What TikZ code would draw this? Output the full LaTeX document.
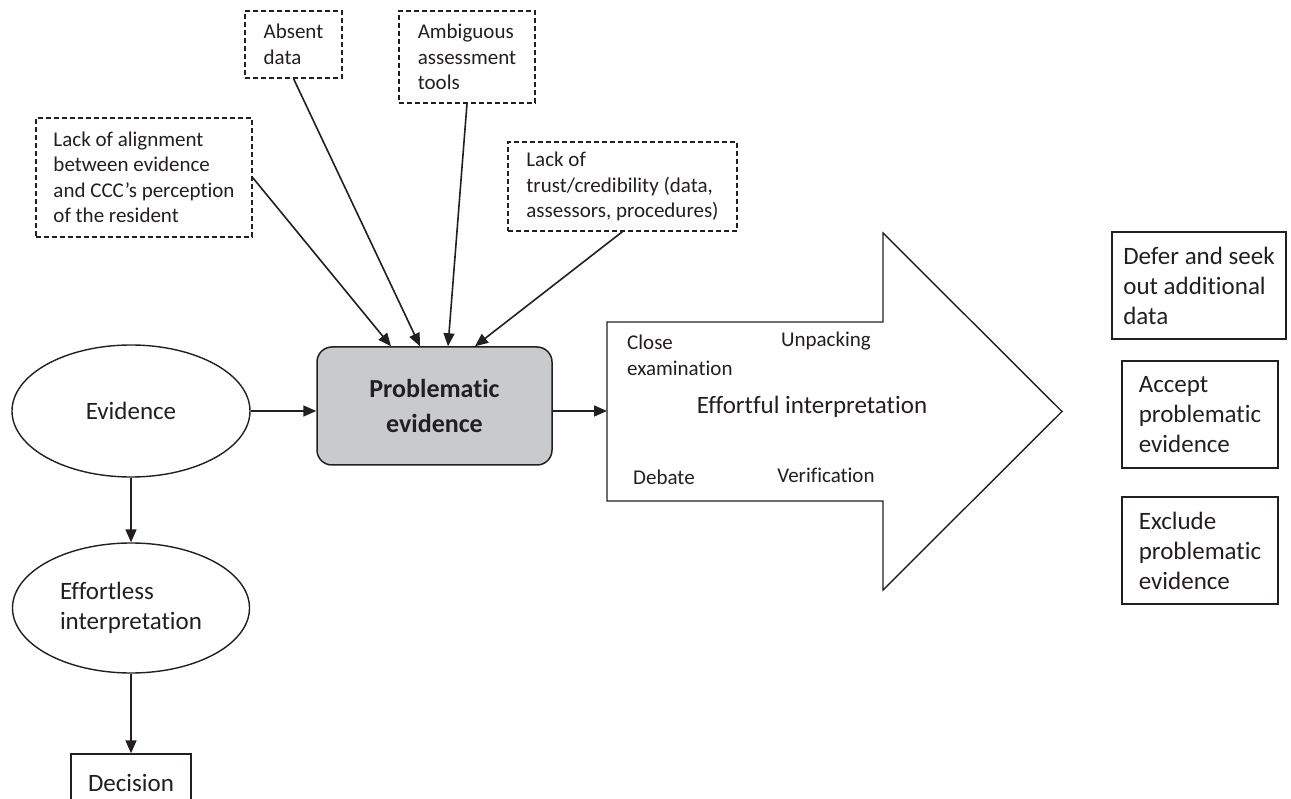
\documentclass[tikz,border=0pt]{standalone}
\usepackage{fontspec}
\setmainfont{Carlito}[Ligatures=NoCommon]
\usetikzlibrary{arrows.meta,shapes.geometric,calc}
\definecolor{ink}{HTML}{231F20}
\definecolor{boxgray}{HTML}{C9CACC}
\begin{document}
\begin{tikzpicture}[x=1pt,y=-1pt,
  every node/.style={text=ink},
  conn/.style={draw=ink, line width=1.6pt, -{Triangle[length=13pt,width=11pt]}},
  dbox/.style={draw=ink, line width=1.2pt, dash pattern=on 5pt off 3pt, align=left, inner sep=0pt, font=\fontsize{21}{25.5}\selectfont},
  sbox/.style={draw=ink, line width=1.4pt, align=left, inner sep=0pt, font=\fontsize{25}{30}\selectfont},
  ell/.style={draw=ink, ellipse, line width=1.4pt, inner sep=0pt, align=left, font=\fontsize{25}{30}\selectfont},
  small/.style={font=\fontsize{21}{25.5}\selectfont, align=left, inner sep=0pt},
]
\useasboundingbox (0,0) rectangle (1291,799);

% dashed cause boxes
\node[dbox, minimum width=97pt, minimum height=67pt] (absent) at (293.5,44.5) {Absent\\data};
\node[dbox, minimum width=136pt, minimum height=92pt] (ambig) at (467,57) {Ambiguous\\assessment\\tools};
\node[dbox, minimum width=216pt, minimum height=119pt] (align) at (144,177.5) {Lack of alignment\\between evidence\\and CCC’s perception\\of the resident};
\node[dbox, minimum width=229pt, minimum height=89pt] (trust) at (622.5,186.5) {Lack of\\trust/credibility (data,\\assessors, procedures)};

% main nodes
\node[ell, minimum width=238pt, minimum height=132pt] (evid) at (131,411) {Evidence};
\node[ell, minimum width=237pt, minimum height=130pt] (effl) at (131,608) {Effortless\\interpretation};
\node[sbox, minimum width=120pt, minimum height=58pt] (dec) at (131,783) {Decision};
\node[draw=ink, fill=boxgray, line width=1.5pt, rounded corners=15pt, minimum width=235pt, minimum height=118pt, align=center, inner sep=0pt, font=\fontsize{26}{35}\selectfont\bfseries] (prob) at (434.5,406) {Problematic\\evidence};

% big arrow
\draw[draw=ink, line width=1.4pt, fill=white] (607,322) -- (883,322) -- (883,233) -- (1062,411.5) -- (883,590) -- (883,501) -- (607,501) -- cycle;
\coordinate (bigL) at (607,411);
\node[small, anchor=west] (close) at (627,355.5) {Close\\examination};
\node[small] (unpack) at (826,341) {Unpacking};
\node[font=\fontsize{25}{30}\selectfont, inner sep=0pt] (effort) at (812,407) {Effortful interpretation};
\node[small, anchor=west] (debate) at (633,477) {Debate};
\node[small] (verif) at (826,475) {Verification};

% outcome boxes
\node[sbox, minimum width=174pt, minimum height=107pt] (defer) at (1199,285.5) {Defer and seek\\out additional\\data};
\node[sbox, minimum width=156pt, minimum height=107pt] (accept) at (1200,414.5) {Accept\\problematic\\evidence};
\node[sbox, minimum width=156pt, minimum height=107pt] (exclude) at (1200,550.5) {Exclude\\problematic\\evidence};

% connectors
\draw[conn] (align.east) -- ($(prob.north)+(-43.5,0)$);
\draw[conn] (absent.south) -- ($(prob.north)+(-14.5,0)$);
\draw[conn] (ambig.south) -- ($(prob.north)+(13.5,0)$);
\draw[conn] (trust.south) -- ($(prob.north)+(40.5,0)$);
\draw[conn] (evid.east) -- (evid.east -| prob.west);
\draw[conn] (prob.east |- bigL) -- (bigL);
\draw[conn] (evid.south) -- (effl.north);
\draw[conn] (effl.south) -- (dec.north);
\end{tikzpicture}
\end{document}
